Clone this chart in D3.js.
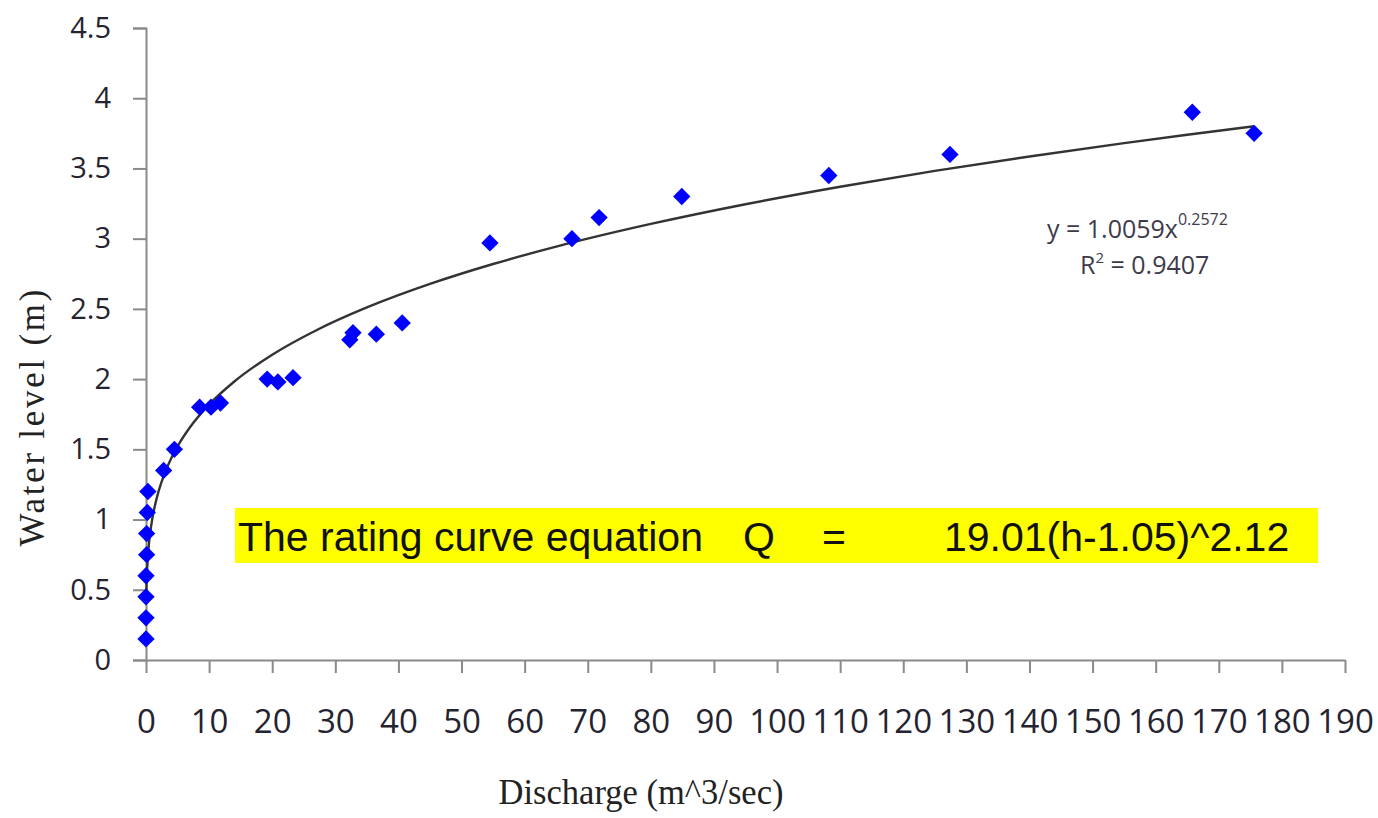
<!DOCTYPE html>
<html>
<head>
<meta charset="utf-8">
<script src="https://cdnjs.cloudflare.com/ajax/libs/d3/7.8.5/d3.min.js"></script>
<style>
  body { margin: 0; background: #fff; }
  svg { display: block; }
</style>
</head>
<body>
<div id="chart"></div>
<script>
// discharge (m^3/sec) and water level (m)
const discharge = [0, 0, 0, 0, 0.1, 0.1, 0.2, 0.3, 2.8, 4.5,
  8.5, 10.3, 11.8, 19.2, 20.9, 23.3, 32.3, 32.8, 36.5, 40.6,
  54.5, 67.5, 71.8, 84.9, 108.2, 127.4, 165.8, 175.6];
const waterLevel = [0.15, 0.3, 0.45, 0.6, 0.75, 0.9, 1.05, 1.2, 1.35, 1.5,
  1.8, 1.8, 1.83, 2.0, 1.98, 2.01, 2.28, 2.33, 2.32, 2.4,
  2.97, 3.0, 3.15, 3.3, 3.45, 3.6, 3.9, 3.75];

// power trendline y = a * x^b
const trendA = 1.0059;
const trendB = 0.2572;
const trendX = [0.05, 0.1, 0.2, 0.4, 0.7, 1, 1.5, 2, 3, 4, 5, 7, 10, 14, 20, 27, 35, 45,
  55, 65, 80, 95, 110, 125, 140, 155, 165, 175.6];

const xTicks = d3.range(0, 191, 10);
const yTicks = [0, 0.5, 1, 1.5, 2, 2.5, 3, 3.5, 4, 4.5];

const W = 1378, H = 818;
const svg = d3.select("#chart").append("svg")
  .attr("width", W)
  .attr("height", H);

const x = d3.scaleLinear().domain([0, 190]).range([146, 1345]);
const y = d3.scaleLinear().domain([0, 4.5]).range([660, 28]);

const axisColor = "#8a8a8a";
const labelColor = "#25232f";

// y axis
const gy = svg.append("g")
  .attr("transform", "translate(" + x(0) + ",0)")
  .call(d3.axisLeft(y).tickValues(yTicks).tickSize(13).tickPadding(22)
    .tickFormat(d3.format("")));
gy.select(".domain").attr("stroke", axisColor).attr("stroke-width", 2);
gy.selectAll(".tick line").attr("stroke", axisColor).attr("stroke-width", 2);
gy.selectAll(".tick text")
  .attr("fill", labelColor)
  .style("font-family", "'Open Sans', sans-serif")
  .style("font-size", "29px");

// x axis
const gx = svg.append("g")
  .attr("transform", "translate(0," + y(0) + ")")
  .call(d3.axisBottom(x).tickValues(xTicks).tickSize(13).tickPadding(37)
    .tickSizeOuter(0));
gx.select(".domain").attr("stroke", axisColor).attr("stroke-width", 2);
gx.selectAll(".tick line").attr("stroke", axisColor).attr("stroke-width", 2);
gx.selectAll(".tick text")
  .attr("fill", labelColor)
  .style("font-family", "'Liberation Sans Narrow', 'Open Sans', sans-serif")
  .style("font-size", "33px");

// axis titles
svg.append("text")
  .attr("x", 641).attr("y", 804)
  .attr("text-anchor", "middle")
  .attr("textLength", 285)
  .attr("lengthAdjust", "spacingAndGlyphs")
  .style("font-family", "'Liberation Serif', 'Times New Roman', serif")
  .style("font-size", "36px")
  .attr("fill", "#222")
  .text("Discharge (m^3/sec)");

svg.append("text")
  .attr("transform", "translate(44,418) rotate(-90)")
  .attr("text-anchor", "middle")
  .attr("textLength", 257)
  .attr("lengthAdjust", "spacing")
  .style("font-family", "'Liberation Serif', 'Times New Roman', serif")
  .style("font-size", "35px")
  .attr("fill", "#222")
  .text("Water level  (m)");

// trendline
const line = d3.line()
  .x(d => x(d))
  .y(d => y(trendA * Math.pow(d, trendB)))
  .curve(d3.curveMonotoneX);

svg.append("path")
  .datum(trendX)
  .attr("d", line)
  .attr("fill", "none")
  .attr("stroke", "#333")
  .attr("stroke-width", 2.4);

// points
const points = discharge.map((d, i) => ({ q: d, h: waterLevel[i] }));
const diamond = d3.symbol().type(d3.symbolSquare).size(150);

svg.selectAll("path.pt")
  .data(points)
  .enter().append("path")
  .attr("class", "pt")
  .attr("d", diamond)
  .attr("transform", d => "translate(" + x(d.q) + "," + y(d.h) + ") rotate(45)")
  .attr("fill", "#0000ff");

// trendline label
const eq = svg.append("text")
  .attr("x", 1047).attr("y", 238)
  .attr("fill", "#3d3b4a")
  .style("font-family", "'Open Sans', sans-serif")
  .style("font-size", "25px");
eq.append("tspan").text("y = 1.0059x");
eq.append("tspan").attr("dy", -13).style("font-size", "16px").text("0.2572");

const r2 = svg.append("text")
  .attr("x", 1080).attr("y", 274)
  .attr("fill", "#3d3b4a")
  .style("font-family", "'Open Sans', sans-serif")
  .style("font-size", "25px");
r2.append("tspan").text("R");
r2.append("tspan").attr("dy", -11).style("font-size", "15px").text("2");
r2.append("tspan").attr("dy", 11).text(" = 0.9407");

// highlighted rating curve equation
svg.append("rect")
  .attr("x", 235).attr("y", 508)
  .attr("width", 1083).attr("height", 55)
  .attr("fill", "#ffff00");

const eqParts = [
  { t: "The rating curve equation", x: 238 },
  { t: "Q", x: 743 },
  { t: "=", x: 822 },
  { t: "19.01(h-1.05)^2.12", x: 944 }
];
svg.selectAll("text.rc")
  .data(eqParts)
  .enter().append("text")
  .attr("class", "rc")
  .attr("x", d => d.x)
  .attr("y", 551)
  .attr("fill", "#111")
  .style("font-family", "'Liberation Sans', Arial, sans-serif")
  .style("font-size", "41px")
  .text(d => d.t);
</script>
</body>
</html>
